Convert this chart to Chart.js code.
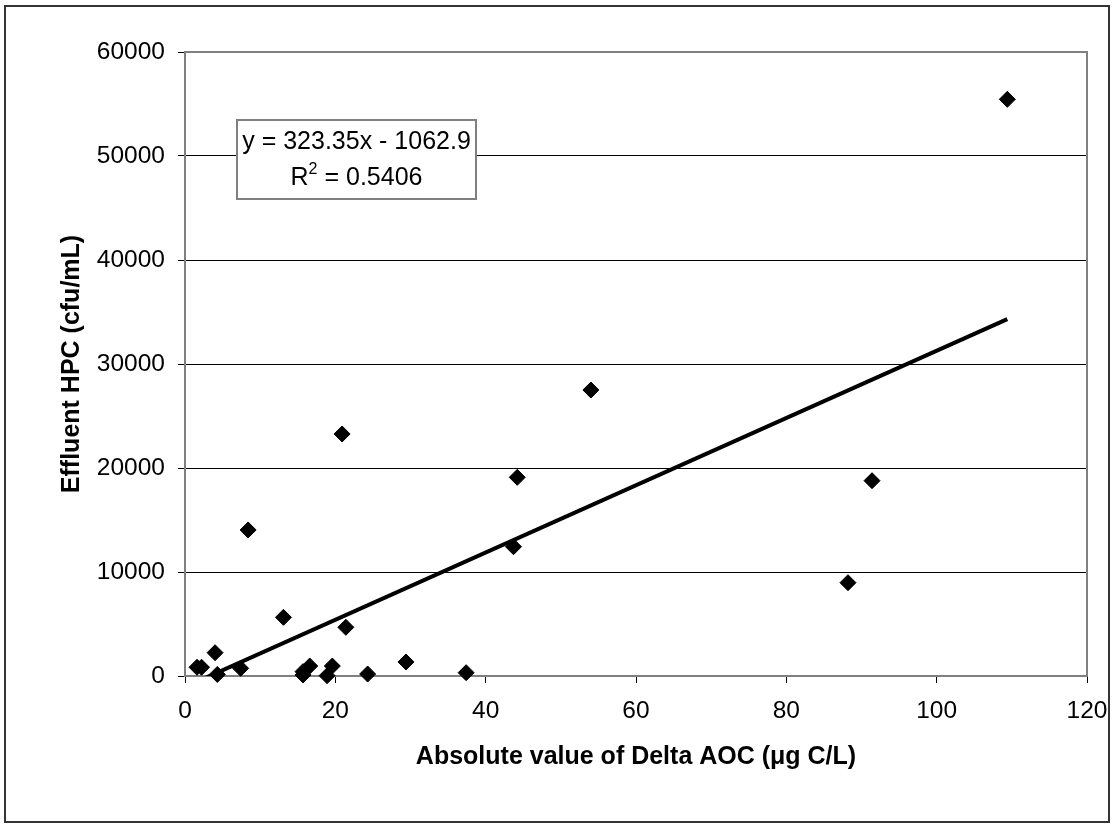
<!DOCTYPE html>
<html>
<head>
<meta charset="utf-8">
<script src="https://cdn.jsdelivr.net/npm/chart.js@4/dist/chart.umd.min.js"></script>
<style>
  html,body{margin:0;padding:0;background:#fff;overflow:hidden}
  #wrap{position:relative;width:1113px;height:829px}
</style>
</head>
<body>
<div id="wrap"><canvas id="c"></canvas></div>
<script>
'use strict';

// Delta AOC (ug C/L) vs effluent HPC (cfu/mL)
const deltaAOC=[1.6,2.2,4.0,4.3,7.4,8.4,13.1,15.7,15.7,16.6,18.9,19.6,20.9,21.4,24.3,29.4,37.4,43.7,44.2,54.0,88.2,91.4,109.4];
const hpc=[840,840,2240,150,740,14040,5640,420,100,960,30,960,23270,4680,190,1350,320,12430,19100,27500,8970,18780,55450];
// Excel linear trend line
const slope=323.35, intercept=-1062.9, r2=0.5406;
const xTicks=[0,20,40,60,80,100,120];
const yTicks=[0,10000,20000,30000,40000,50000,60000];

const FONT='"Liberation Sans", Arial, sans-serif';
const pts=deltaAOC.map((x,i)=>({x,y:hpc[i]}));
const xMin=Math.min(...deltaAOC),xMax=Math.max(...deltaAOC);
const trend=[xMin,xMax].map(x=>({x,y:slope*x+intercept}));

const frame={
  id:'frame',
  beforeDatasetsDraw(ch){
    const {ctx,chartArea:a}=ch;
    ctx.save(); ctx.strokeStyle='#808080'; ctx.lineWidth=2;
    ctx.strokeRect(a.left,a.top,a.right-a.left,a.bottom-a.top);
    ctx.restore();
  },
  afterDraw(ch){
    const {ctx,chartArea:a}=ch;
    ctx.save();
    // outer chart border
    ctx.strokeStyle='#333'; ctx.lineWidth=2;
    ctx.strokeRect(5,6,1104,816);
    // equation box
    const bx=a.left+52,by=a.top+68,bw=239,bh=79;
    ctx.fillStyle='#fff'; ctx.fillRect(bx,by,bw,bh);
    ctx.strokeStyle='#808080'; ctx.lineWidth=2; ctx.strokeRect(bx,by,bw,bh);
    ctx.fillStyle='#000'; ctx.textBaseline='alphabetic'; ctx.textAlign='center';
    ctx.font='25px '+FONT;
    const cx=bx+bw/2;
    ctx.fillText('y = '+slope+'x - '+Math.abs(intercept),cx,by+29);
    const rest=' = '+r2, rW=ctx.measureText('R').width;
    ctx.font='16px '+FONT; const sW=ctx.measureText('2').width;
    ctx.font='25px '+FONT; const tW=ctx.measureText(rest).width;
    const x0=cx-(rW+sW+tW)/2;
    ctx.textAlign='left';
    ctx.fillText('R',x0,by+65);
    ctx.font='16px '+FONT; ctx.fillText('2',x0+rW,by+54);
    ctx.font='25px '+FONT; ctx.fillText(rest,x0+rW+sW,by+65);
    ctx.restore();
  }
};

new Chart(document.getElementById('c').getContext('2d'),{
  type:'scatter',
  data:{datasets:[
    {type:'line',data:trend,borderColor:'#000',borderWidth:4,pointRadius:0,fill:false,clip:0},
    {data:pts,pointStyle:'rectRot',pointRadius:8,pointHoverRadius:8,backgroundColor:'#000',borderColor:'#000',borderWidth:1,clip:false}
  ]},
  options:{
    responsive:true,maintainAspectRatio:false,animation:false,
    layout:{padding:{top:52,right:26,left:0,bottom:0}},
    plugins:{legend:{display:false},tooltip:{enabled:false}},
    scales:{
      x:{type:'linear',min:0,max:120,
        afterFit:s=>{s.height=153;s.paddingLeft=0;s.paddingRight=0;},
        afterBuildTicks:s=>{s.ticks=xTicks.map(v=>({value:v}));},
        grid:{drawOnChartArea:false,drawTicks:true,tickLength:7,color:'#000'},
        border:{display:false},
        ticks:{color:'#000',padding:16,font:{family:FONT,size:24.5,lineHeight:1},maxRotation:0},
        title:{display:true,text:'Absolute value of Delta AOC (\u03bcg C/L)',color:'#000',
          font:{family:FONT,size:25,weight:'bold',lineHeight:1},padding:{top:0,bottom:59}}
      },
      y:{type:'linear',min:0,max:60000,
        afterFit:s=>{s.width=185;s.paddingTop=0;s.paddingBottom=0;},
        afterBuildTicks:s=>{s.ticks=yTicks.map(v=>({value:v}));},
        grid:{color:'#000',lineWidth:1,tickLength:7},
        border:{display:false},
        ticks:{color:'#000',padding:13,font:{family:FONT,size:24.5,lineHeight:1},callback:v=>String(v)},
        title:{display:true,text:'Effluent HPC (cfu/mL)',color:'#000',
          font:{family:FONT,size:25,weight:'bold',lineHeight:1},padding:{top:60,bottom:0}}
      }
    }
  },
  plugins:[frame]
});
</script>
</body>
</html>
